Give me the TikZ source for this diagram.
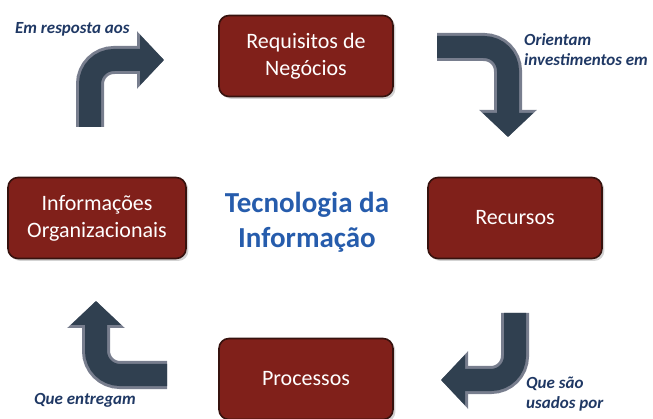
\documentclass[tikz,border=0pt]{standalone}
\usepackage{fontspec}
\setmainfont{Carlito}
\usepackage{xcolor}
\usetikzlibrary{arrows.meta,shadows}

\definecolor{boxred}{RGB}{128,32,26}
\definecolor{boxedge}{RGB}{55,18,14}
\definecolor{arrowdark}{RGB}{48,64,80}
\definecolor{arrowedge}{RGB}{120,126,142}
\definecolor{labelblue}{RGB}{31,56,100}
\definecolor{titleblue}{RGB}{38,92,172}

\begin{document}
\begin{tikzpicture}[x=1pt,y=-1pt,
        etapa/.style={draw=boxedge, fill=boxred, line width=1.6pt, rounded corners=10pt,
            minimum width=174pt, minimum height=81pt, align=center, text=white,
            font=\fontsize{22}{27}\selectfont, drop shadow={opacity=0.35}},
        rotulo/.style={text=labelblue, align=left, inner sep=0pt,
            font=\fontsize{17}{20}\selectfont\bfseries\itshape},
        setaborda/.style={draw=arrowedge, line width=28pt, rounded corners=24pt,
            -{Triangle[length=27pt,width=56pt]}},
        seta/.style={draw=arrowdark, line width=22pt, rounded corners=24pt,
            -{Triangle[length=24pt,width=49pt]}}]
        \useasboundingbox (0,0) rectangle (653,419);

        % caixas
        \node[etapa] (req) at (306,56) {Requisitos de\\Negócios};
        \node[etapa] (rec) at (515,218) {Recursos};
        \node[etapa] (proc) at (306,379) {Processos};
        \node[etapa, minimum width=178pt] (info) at (97,218) {Informações\\Organizacionais};

        \node[text=titleblue, align=center, font=\fontsize{29}{35}\selectfont\bfseries]
            (ti) at (307,222) {Tecnologia da\\Informação};

        % setas
        \coordinate (s1) at (90,127);   \coordinate (t1) at (164,60);
        \coordinate (s2) at (437,47);   \coordinate (t2) at (508,137);
        \coordinate (s3) at (515,313);  \coordinate (t3) at (441,380);
        \coordinate (s4) at (167,375);  \coordinate (t4) at (96,301);

        \draw[setaborda] (s1) |- (t1);
        \draw[seta] (s1) |- (t1);
        \draw[setaborda] (s2) -| (t2);
        \draw[seta] (s2) -| (t2);
        \draw[setaborda] (s3) |- (t3);
        \draw[seta] (s3) |- (t3);
        \draw[setaborda] (s4) -| (t4);
        \draw[seta] (s4) -| (t4);

        % rotulos
        \node[rotulo, anchor=west] (l1) at (15,29) {Em resposta aos};
        \node[rotulo, anchor=north west] (l2) at (524,33) {Orientam\\investimentos em};
        \node[rotulo, anchor=north west] (l3) at (526,377) {Que são\\usados por};
        \node[rotulo, anchor=west] (l4) at (34,400) {Que entregam};
\end{tikzpicture}
\end{document}
